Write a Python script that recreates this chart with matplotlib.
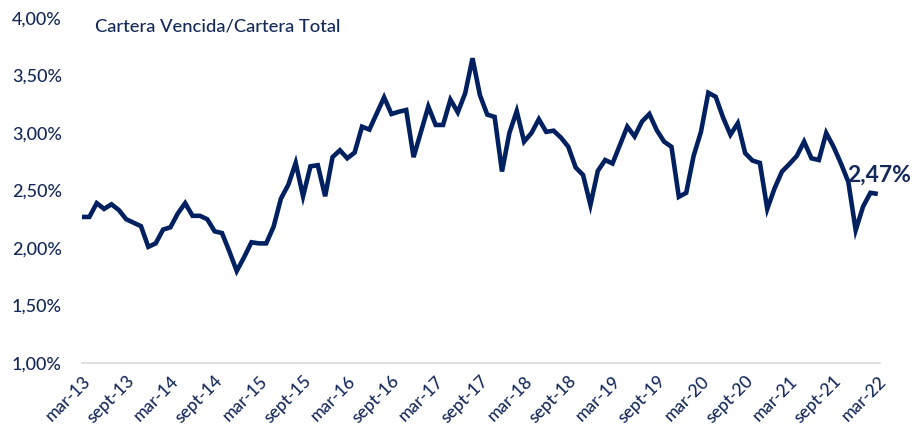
import matplotlib.pyplot as plt

# Cartera vencida / cartera total, mensual mar-13 .. mar-22 (%)
ratio = [
    2.27, 2.27, 2.39, 2.34, 2.38, 2.33, 2.25, 2.22, 2.19, 2.01,
    2.04, 2.16, 2.18, 2.30, 2.39, 2.28, 2.28, 2.25, 2.145, 2.13,
    1.97, 1.80, 1.92, 2.05, 2.04, 2.04, 2.185, 2.43, 2.55, 2.74,
    2.45, 2.71, 2.72, 2.45, 2.79, 2.85, 2.78, 2.83, 3.055, 3.03,
    3.17, 3.31, 3.165, 3.185, 3.20, 2.79, 3.01, 3.23, 3.07, 3.07,
    3.29, 3.18, 3.345, 3.65, 3.33, 3.16, 3.14, 2.665, 3.00, 3.19,
    2.925, 3.00, 3.12, 3.01, 3.02, 2.96, 2.88, 2.70, 2.635, 2.375,
    2.67, 2.765, 2.735, 2.895, 3.055, 2.97, 3.10, 3.165, 3.025, 2.925,
    2.88, 2.445, 2.48, 2.80, 3.01, 3.35, 3.315, 3.135, 2.985, 3.085,
    2.825, 2.76, 2.74, 2.34, 2.52, 2.665, 2.73, 2.80, 2.925, 2.78,
    2.765, 3.00, 2.88, 2.735, 2.575, 2.155, 2.36, 2.48, 2.47,
]

tick_labels = ['mar-13', 'sept-13', 'mar-14', 'sept-14', 'mar-15', 'sept-15',
               'mar-16', 'sept-16', 'mar-17', 'sept-17', 'mar-18', 'sept-18',
               'mar-19', 'sept-19', 'mar-20', 'sept-20', 'mar-21', 'sept-21',
               'mar-22']
y_ticks = [1.0, 1.5, 2.0, 2.5, 3.0, 3.5, 4.0]

navy = '#002060'
text_col = '#14295a'

plt.rcParams['font.family'] = ['Lato', 'DejaVu Sans']

fig = plt.figure(figsize=(9.15, 4.28), dpi=100)
ax = fig.add_axes([82 / 915, 65 / 428, 798 / 915, 345 / 428])

x = list(range(len(ratio)))
ax.plot(x, ratio, color=navy, linewidth=3.3, solid_joinstyle='miter',
        solid_capstyle='butt', clip_on=False)

ax.set_xlim(0, 108.3)
ax.set_ylim(1.0, 4.0)

ax.set_yticks(y_ticks)
ax.set_yticklabels(['{:.2f}%'.format(v).replace('.', ',') for v in y_ticks],
                   fontsize=13, color=text_col, fontweight='medium')
ax.tick_params(axis='y', length=0, pad=14.5)

ax.set_xticks(x[::6])
ax.set_xticklabels(tick_labels, rotation=45, ha='right', va='top',
                   rotation_mode='anchor', fontsize=12.5, color=text_col,
                   fontweight='medium')
ax.tick_params(axis='x', length=0, pad=7)

for side in ['top', 'right', 'left']:
    ax.spines[side].set_visible(False)
ax.spines['bottom'].set_color('#d9d9d9')
ax.spines['bottom'].set_linewidth(1.2)

ax.text(95 / 915, 1 - 26 / 428, 'Cartera Vencida/Cartera Total',
        transform=fig.transFigure, fontsize=13.2, color=text_col,
        ha='left', va='center', fontweight='medium')

ax.annotate('{:.2f}%'.format(ratio[-1]).replace('.', ','),
            xy=(x[-1], ratio[-1]), xytext=(-22, 13.5),
            textcoords='offset points', ha='left', va='center',
            fontsize=16.5, fontweight='bold', color=text_col)

fig.savefig('out.png', dpi=100)
